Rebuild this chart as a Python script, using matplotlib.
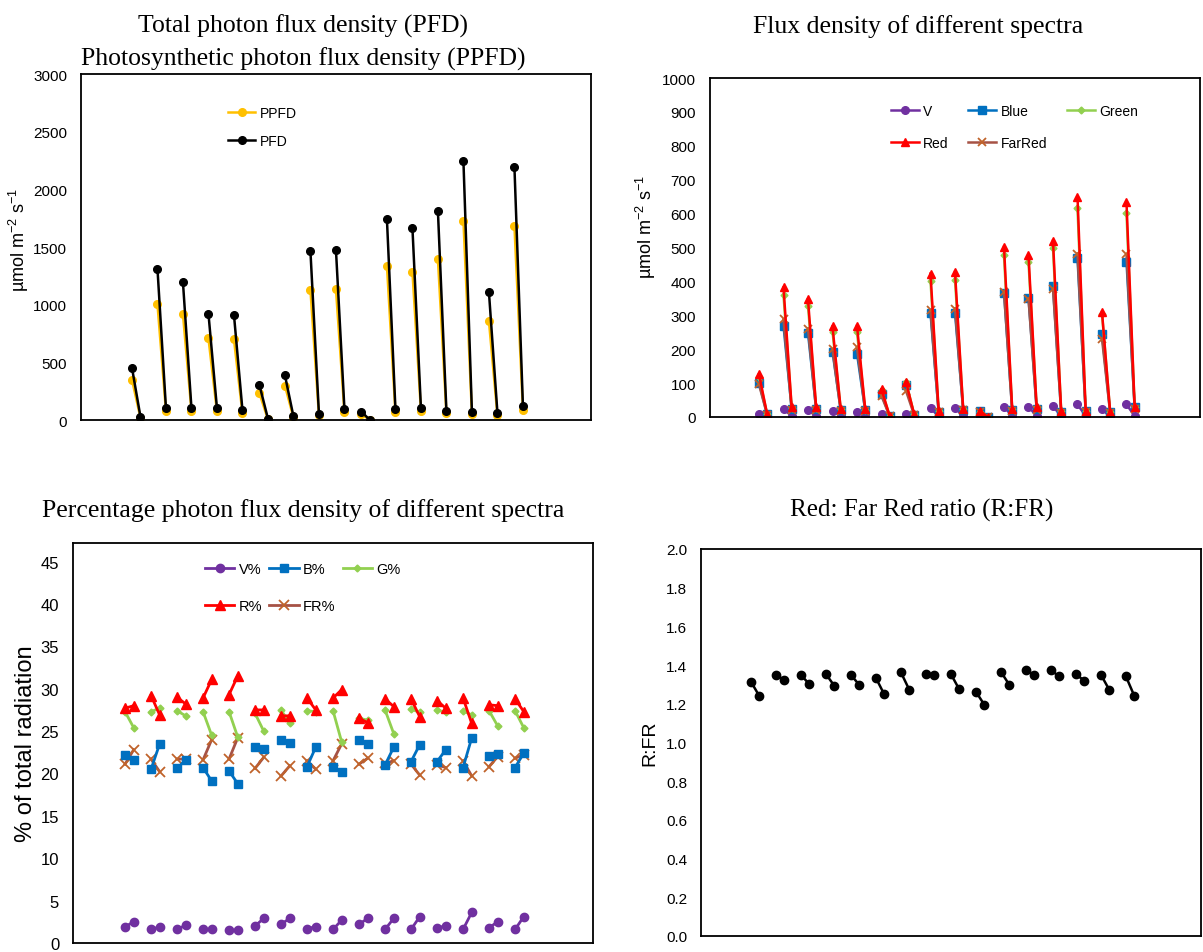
import matplotlib
matplotlib.use("Agg")
import matplotlib.pyplot as plt
from matplotlib import font_manager
import numpy as np

# fonts: sans for ticks/legends, serif for titles
_names = {f.name for f in font_manager.fontManager.ttflist}
SANS = "Liberation Sans Narrow" if "Liberation Sans Narrow" in _names else "Liberation Sans"
SERIF = "Liberation Serif"
plt.rcParams["font.family"] = [SANS, "DejaVu Sans"]
plt.rcParams["mathtext.default"] = "regular"

# each site measured twice -> pairs (first reading, second reading)
pfd_a = [454, 1312, 1194, 922, 913, 303, 387, 1462, 1477, 72, 1740, 1665, 1809, 2246, 1110, 2196]
pfd_b = [29, 104, 104, 104, 87, 12, 32, 55, 95, 0, 95, 107, 75, 72, 64, 124]
ppfd_a = [350, 1006, 916, 708, 699, 231, 298, 1127, 1136, 52, 1338, 1286, 1393, 1728, 858, 1685]
ppfd_b = [20, 78, 81, 75, 61, 6, 23, 40, 66, 0, 66, 81, 58, 52, 43, 90]

v_a = [10, 23, 21, 18, 16, 8, 10, 26, 26, 3, 30, 30, 32, 37, 23, 37]
v_b = [1, 3, 2, 2, 2, 1, 1, 2, 3, 0, 3, 3, 2, 3, 1, 3]
blue_a = [101, 269, 247, 193, 187, 67, 93, 306, 308, 18, 367, 352, 385, 468, 246, 458]
blue_b = [8, 24, 23, 22, 20, 3, 7, 14, 22, 0, 22, 25, 16, 17, 14, 29]
green_a = [118, 359, 328, 252, 251, 79, 104, 401, 405, 16, 477, 458, 498, 616, 305, 601]
green_b = [8, 27, 26, 24, 22, 3, 8, 17, 25, 0, 24, 28, 19, 18, 14, 28]
red_a = [126, 382, 347, 267, 269, 82, 103, 423, 428, 18, 502, 478, 520, 650, 310, 633]
red_b = [8, 28, 28, 25, 25, 3, 8, 18, 25, 0, 25, 28, 18, 18, 15, 30]
farred_a = [96, 288, 261, 200, 205, 62, 77, 316, 320, 15, 370, 349, 379, 482, 231, 480]
farred_b = [6, 21, 21, 19, 19, 2, 6, 14, 20, 0, 19, 21, 13, 14, 12, 24]

vp_a = [1.9, 1.6, 1.6, 1.6, 1.5, 2.0, 2.2, 1.7, 1.6, 2.2, 1.6, 1.6, 1.8, 1.6, 1.8, 1.6]
vp_b = [2.5, 1.9, 2.1, 1.6, 1.5, 2.9, 2.9, 1.9, 2.7, 2.9, 2.9, 3.1, 2.0, 3.6, 2.5, 3.1]
bp_a = [22.2, 20.5, 20.6, 20.7, 20.3, 23.1, 24.0, 20.8, 20.8, 24.0, 21.0, 21.4, 21.4, 20.7, 22.1, 20.7]
bp_b = [21.6, 23.5, 21.6, 19.1, 18.8, 22.9, 23.6, 23.1, 20.2, 23.5, 23.1, 23.4, 22.8, 24.2, 22.3, 22.4]
gp_a = [27.3, 27.3, 27.4, 27.3, 27.3, 27.1, 27.5, 27.4, 27.4, 26.5, 27.5, 27.6, 27.5, 27.4, 27.4, 27.4]
gp_b = [25.4, 27.7, 26.8, 24.5, 24.3, 25.0, 25.9, 27.3, 23.7, 26.3, 24.7, 27.2, 27.2, 26.9, 25.6, 25.4]
rp_a = [27.7, 29.2, 29.0, 28.9, 29.3, 27.5, 26.8, 28.9, 28.9, 26.5, 28.8, 28.8, 28.6, 28.9, 28.1, 28.8]
rp_b = [28.0, 26.9, 28.2, 31.1, 31.5, 27.5, 26.8, 27.5, 29.9, 26.0, 27.9, 26.7, 27.7, 25.9, 28.0, 27.3]
frp_a = [21.1, 21.7, 21.7, 21.6, 21.7, 20.6, 19.7, 21.5, 21.5, 21.1, 21.2, 21.1, 21.0, 21.5, 20.8, 21.8]
frp_b = [22.8, 20.2, 21.7, 24.0, 24.2, 21.9, 20.9, 20.5, 23.5, 21.8, 21.5, 19.8, 20.7, 19.7, 22.0, 22.2]

rfr_a = [1.314, 1.348, 1.348, 1.353, 1.348, 1.333, 1.362, 1.353, 1.353, 1.262, 1.365, 1.374, 1.374, 1.353, 1.350, 1.341]
rfr_b = [1.240, 1.324, 1.302, 1.293, 1.298, 1.248, 1.272, 1.350, 1.274, 1.195, 1.298, 1.350, 1.341, 1.319, 1.272, 1.241]

n_pairs = len(pfd_a)
# category layout: each pair takes two slots followed by an empty slot
x = np.column_stack([6 + 3 * np.arange(n_pairs), 7 + 3 * np.arange(n_pairs),
                     np.full(n_pairs, np.nan)]).ravel()


def pairs(a, b):
    return np.column_stack([a, b, np.full(len(a), np.nan)]).ravel()


def style_ax(ax, ylim, yticks, fmt="{:g}", size=11):
    ax.set_xlim(0, 60)
    ax.set_ylim(*ylim)
    ax.set_xticks([])
    ax.set_yticks(yticks)
    ax.set_yticklabels([fmt.format(t) for t in yticks])
    ax.tick_params(axis="y", length=0, pad=10, labelsize=size)
    for s in ax.spines.values():
        s.set_color("black")
        s.set_linewidth(1.3)


def title(xc, y_base, text, size=18.5):
    fig.text(xc / 1203, 1 - y_base / 953, text, family=SERIF, fontsize=size,
             ha="center", va="baseline")


fig = plt.figure(figsize=(12.03, 9.53), dpi=100)
ax1 = fig.add_axes([0.0673, 0.5582, 0.4239, 0.3631])
ax2 = fig.add_axes([0.5902, 0.5614, 0.4073, 0.3557])
ax3 = fig.add_axes([0.0607, 0.0095, 0.4323, 0.4197])
ax4 = fig.add_axes([0.5827, 0.0168, 0.4156, 0.4061])

# --- total vs photosynthetic flux
ax1.plot(x, pairs(ppfd_a, ppfd_b), color="#FFC000", lw=1.8, marker="o", ms=5.5, label="PPFD")
ax1.plot(x, pairs(pfd_a, pfd_b), color="black", lw=1.8, marker="o", ms=5.5, label="PFD")
style_ax(ax1, (0, 3000), np.arange(0, 3001, 500))
ax1.set_ylabel(r"µmol m$^{-2}$ s$^{-1}$", fontsize=13)
ax1.yaxis.set_label_coords(-0.098, 0.523)
ax1.legend(loc="upper left", bbox_to_anchor=(0.274, 0.929), frameon=False, fontsize=10,
           labelspacing=1.05, handlelength=2.0, handletextpad=0.3, borderpad=0)
title(303, 33, "Total photon flux density (PFD)")
title(303, 66, "Photosynthetic photon flux density (PPFD)")

# --- spectra
h_v, = ax2.plot(x, pairs(v_a, v_b), color="#7030A0", lw=1.8, marker="o", ms=5.5, label="V")
h_b, = ax2.plot(x, pairs(blue_a, blue_b), color="#0070C0", lw=1.8, marker="s", ms=5.5, label="Blue")
h_g, = ax2.plot(x, pairs(green_a, green_b), color="#92D050", lw=1.8, marker="D", ms=3.5, label="Green")
h_fr, = ax2.plot(x, pairs(farred_a, farred_b), color="#A65245", lw=1.8, marker="x", ms=6,
                 mew=1.3, mec="#C0632A", label="FarRed")
h_r, = ax2.plot(x, pairs(red_a, red_b), color="#FF0000", lw=1.8, marker="^", ms=6, label="Red")
style_ax(ax2, (0, 1000), np.arange(0, 1001, 100))
ax2.set_ylabel(r"µmol m$^{-2}$ s$^{-1}$", fontsize=13)
ax2.yaxis.set_label_coords(-0.106, 0.563)
ax2.legend(handles=[h_v, h_r, h_b, h_fr, h_g], ncol=3, loc="upper left",
           bbox_to_anchor=(0.355, 0.945), frameon=False, fontsize=10, labelspacing=1.35,
           handlelength=2.0, handletextpad=0.3, columnspacing=1.45, borderpad=0)
title(918, 33, "Flux density of different spectra")

# --- percentages
p_v, = ax3.plot(x, pairs(vp_a, vp_b), color="#7030A0", lw=2, marker="o", ms=6, label="V%")
p_fr, = ax3.plot(x, pairs(frp_a, frp_b), color="#A65245", lw=2, marker="x", ms=7,
                 mew=1.3, mec="#C0632A", label="FR%")
p_b, = ax3.plot(x, pairs(bp_a, bp_b), color="#0070C0", lw=2, marker="s", ms=6, label="B%")
p_g, = ax3.plot(x, pairs(gp_a, gp_b), color="#92D050", lw=2, marker="D", ms=3.5, label="G%")
p_r, = ax3.plot(x, pairs(rp_a, rp_b), color="#FF0000", lw=2, marker="^", ms=6.5, label="R%")
style_ax(ax3, (0, 47.2), np.arange(0, 46, 5), size=12)
ax3.set_ylabel("% of total radiation", fontsize=17, family="Liberation Sans")
ax3.yaxis.set_label_coords(-0.069, 0.50)
ax3.legend(handles=[p_v, p_r, p_b, p_fr, p_g], ncol=3, loc="upper left",
           bbox_to_anchor=(0.240, 0.97), frameon=False, fontsize=10.5, labelspacing=1.55,
           handlelength=2.0, handletextpad=0.3, columnspacing=0.5, borderpad=0)
title(303, 517, "Percentage photon flux density of different spectra")

# --- R:FR
ax4.plot(x, pairs(rfr_a, rfr_b), color="black", lw=1.8, marker="o", ms=6)
style_ax(ax4, (0, 2.0), np.arange(0, 2.01, 0.2), fmt="{:.1f}")
ax4.set_ylabel("R:FR", fontsize=14, family="Liberation Sans")
ax4.yaxis.set_label_coords(-0.086, 0.50)
title(922, 517, "Red: Far Red ratio (R:FR)", size=18)

fig.savefig("out.png", dpi=100)
